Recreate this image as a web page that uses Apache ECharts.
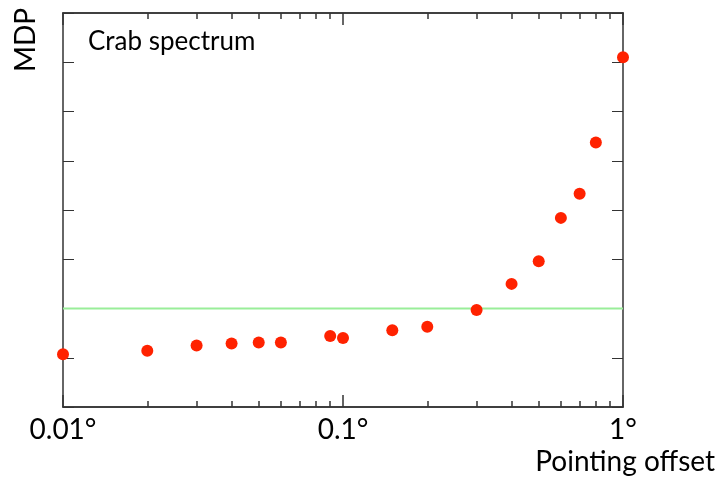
<!DOCTYPE html>
<html>
<head>
<meta charset="utf-8">
<script src="https://cdn.jsdelivr.net/npm/echarts@6/dist/echarts.min.js"></script>
<style>html,body{margin:0;padding:0;background:#fff;}#c{width:717px;height:483px;}</style>
</head>
<body>
<div id="c"></div>
<script>
// Data
const offsets = [0.01, 0.02, 0.03, 0.04, 0.05, 0.06, 0.09, 0.1, 0.15, 0.2, 0.3, 0.4, 0.5, 0.6, 0.7, 0.8, 1.0];
const mdpValues = [1.07, 1.14, 1.25, 1.29, 1.31, 1.31, 1.44, 1.40, 1.56, 1.63, 1.97, 2.50, 2.96, 3.84, 4.33, 5.37, 7.10];
const thresholdMDP = 2;
const majorTicks = [0.01, 0.1, 1];
const minorTicks = [0.02, 0.03, 0.04, 0.05, 0.06, 0.07, 0.08, 0.09, 0.2, 0.3, 0.4, 0.5, 0.6, 0.7, 0.8, 0.9];
const tickLabels = ['0.01°', '0.1°', '1°'];

const FONT = 'Lato, "Open Sans", sans-serif';
// log10 x-scale: the value axis runs in decades
const lg = v => Math.log10(v);
const points = offsets.map((x, i) => [lg(x), mdpValues[i]]);
const majorPos = majorTicks.map(lg);
const minorPos = minorTicks.map(lg);
const xMin = majorPos[0], xMax = majorPos[majorPos.length - 1];
const thresholdLine = [[xMin, thresholdMDP], [xMax, thresholdMDP]];
const axCols = ['#333333', '#343434', '#353535', '#363636'];
let k = 0;

function xAx(pos, ticks, len, showLabel) {
  const c = axCols[k++];
  return {
    type: 'value', min: -2, max: 0, position: pos,
    axisLine: {show: true, onZero: false, lineStyle: {color: c, width: 1.5}},
    axisTick: {show: true, inside: true, length: len, customValues: ticks, lineStyle: {color: c, width: 1.5}},
    axisLabel: {show: showLabel, customValues: majorPos, margin: 9, fontFamily: FONT, fontSize: 28, color: '#000',
      formatter: v => tickLabels[majorPos.findIndex(p => Math.abs(p - v) < 1e-6)] || ''},
    splitLine: {show: false}
  };
}
function yAx(pos) {
  return {
    type: 'value', min: 0, max: 8, interval: 1, position: pos,
    axisLine: {show: true, onZero: false, lineStyle: {color: '#333', width: 1.5}},
    axisTick: {show: true, inside: true, length: 11},
    axisLabel: {show: false}, splitLine: {show: false}
  };
}

const chart = echarts.init(document.getElementById('c'));
chart.setOption({
  animation: false,
  grid: {left: 63, right: 94, top: 13, bottom: 76},
  xAxis: [
    xAx('bottom', majorPos, 12, true),
    xAx('bottom', minorPos, 6, false),
    xAx('top', majorPos, 12, false),
    xAx('top', minorPos, 6, false)
  ],
  yAxis: [yAx('left'), yAx('right')],
  series: [
    {
      type: 'line', data: thresholdLine, showSymbol: false, symbol: 'none', silent: true,
      lineStyle: {color: '#99ee99', width: 2}, z: 1
    },
    {
      type: 'scatter', data: points, symbolSize: 12,
      itemStyle: {color: '#ff2200', opacity: 1}, z: 3
    }
  ]
});
chart.setOption({
  graphic: [
    {type: 'text', left: 88, top: 29, style: {text: 'Crab spectrum', fontFamily: FONT, fontSize: 26, fill: '#000'}},
    {type: 'text', x: 40, y: 72, rotation: Math.PI / 2, style: {text: 'MDP', fontFamily: FONT, fontSize: 28, fill: '#000', textVerticalAlign: 'bottom'}},
    {type: 'text', right: 2, top: 448, style: {text: 'Pointing offset', fontFamily: FONT, fontSize: 28, fill: '#000'}}
  ]
});
</script>
</body>
</html>
